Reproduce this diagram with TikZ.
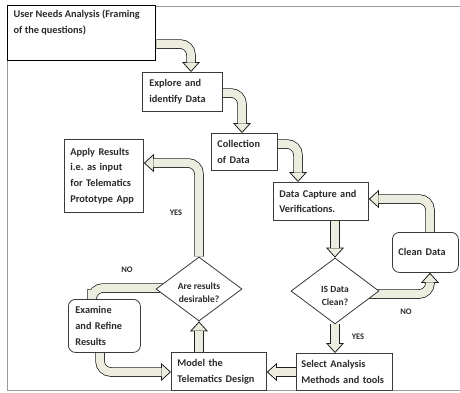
\documentclass[tikz,border=0pt]{standalone}
\usepackage{fontspec}
\setmainfont{Carlito}
\usetikzlibrary{shapes.geometric,arrows.meta,backgrounds}
\definecolor{cream}{HTML}{EDEDDF}
\definecolor{txt}{HTML}{2A2A2A}
\definecolor{boxc}{HTML}{3A3A3A}
\definecolor{framec}{HTML}{9A9A9A}
\frenchspacing
\begin{document}
\begin{tikzpicture}[x=1pt,y=-1pt,
  font=\bfseries\fontsize{10.3}{15.7}\selectfont,
  box/.style={draw=boxc, line width=0.8pt, fill=white, anchor=north west,
    align=left, inner ysep=2pt, text=txt},
  rbox/.style={box, rounded corners=7pt},
  dia/.style={diamond, draw=boxc, line width=0.8pt, fill=white, inner sep=0pt},
  dtext/.style={align=center, text=txt, font=\bfseries\fontsize{9.5}{12.8}\selectfont},
  lbl/.style={text=txt, font=\bfseries\fontsize{8.5}{10}\selectfont},
  barrow/.style={line width=9.5pt, draw=black!88, rounded corners=11pt,
    -{Triangle[width=18pt,length=10pt,fill=cream,line width=0.8pt]},
    postaction={draw=cream, line width=8pt, arrows=-, shorten >=9.5pt}}]
\useasboundingbox (0,0) rectangle (460,392);

% boxes
\node[box, line width=1.3pt, draw=black, minimum width=148pt, minimum height=55pt, inner xsep=6pt, inner ysep=4pt]
  (un) at (7,5) {\parbox[c][46pt][t]{136pt}{User Needs Analysis (Framing\\of the questions)}};
\node[box, minimum width=80pt, minimum height=39pt, inner xsep=7pt, text width=66pt] (ex) at (142,72) {Explore and\\identify Data};
\node[box, minimum width=66pt, minimum height=37pt, inner xsep=6pt, text width=54pt] (col) at (211,133) {Collection\\of Data};
\node[box, minimum width=95pt, minimum height=38pt, inner xsep=6pt, text width=83pt] (dc) at (273,182) {Data Capture and\\Verifications.};
\node[rbox, minimum width=66pt, minimum height=40pt, inner xsep=6pt, text width=54pt] (cd) at (392,232) {Clean Data};
\node[box, minimum width=96pt, minimum height=37pt, inner xsep=5pt, text width=86pt] (sel) at (296,353) {Select Analysis\\Methods and tools};
\node[box, minimum width=95pt, minimum height=38pt, inner xsep=6pt, text width=83pt] (mod) at (171,352) {Model the\\Telematics Design};
\node[rbox, minimum width=72pt, minimum height=53pt, inner xsep=7pt, text width=58pt] (exr) at (68,299) {Examine\\and Refine\\Results};
\node[box, minimum width=79pt, minimum height=73pt, inner xsep=6pt, text width=67pt] (app) at (64,139) {Apply Results\\i.e. as input\\for Telematics\\Prototype App};

% diamonds
\node[dia, minimum width=88pt, minimum height=66pt] (isd) at (335,291) {};
\node[dtext] (isdt) at (335,296) {IS Data\\Clean?};
\node[dia, minimum width=86pt, minimum height=64pt] (ard) at (199,289) {};
\node[dtext] (ardt) at (199,293) {Are results\\desirable?};

% labels
\node[lbl] (yes1) at (176,213) {YES};
\node[lbl] (no1) at (127,270) {NO};
\node[lbl] (no2) at (406,312) {NO};
\node[lbl] (yes2) at (358,337) {YES};

\begin{scope}[on background layer]
  \draw[framec, line width=0.8pt] (7,6) rectangle (475,390);
  \draw[barrow] (un.east |- 0,44) -- (191,44) -- (ex.north -| 191,0);
  \draw[barrow] (ex.east |- 0,93) -- (242,93) -- (col.north -| 242,0);
  \draw[barrow] (col.east |- 0,144) -- (298,144) -- (dc.north -| 298,0);
  \draw[barrow] (cd.north -| 430,0) -- (430,199) -- (dc.east |- 0,199);
  \draw[barrow] (dc.south -| isd.north) -- (isd.north);
  \draw[barrow] (isd.center |- 0,294) -- (430,294) -- (cd.south -| 430,0);
  \draw[barrow] (isd.south) -- (sel.north -| isd.south);
  \draw[barrow] (sel.west |- 0,372) -- (mod.east |- 0,372);
  \draw[barrow] (mod.north -| ard.south) -- (ard.south);
  \draw[barrow] (ard.north) -- (ard.north |- 0,163) -- (app.east |- 0,163);
  \draw[barrow] (ard.center |- 0,288) -- (92,288) -- (exr.north -| 92,0);
  \draw[barrow] (exr.south -| 100,0) -- (100,372) -- (mod.west |- 0,372);
\end{scope}
\end{tikzpicture}
\end{document}
